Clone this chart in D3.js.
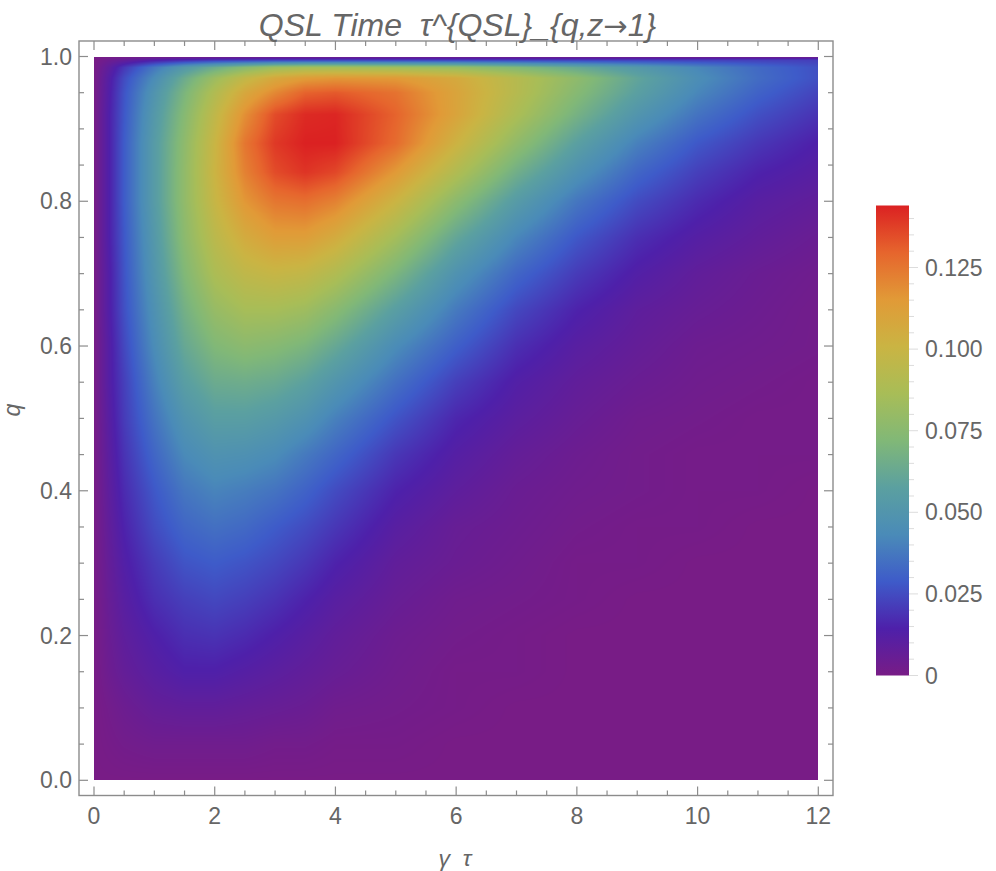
<!DOCTYPE html>
<html>
<head>
<meta charset="utf-8">
<script src="https://cdn.jsdelivr.net/npm/d3@7"></script>
<style>
  html, body { margin: 0; padding: 0; background: #fff; }
  text { font-family: "Liberation Sans", Arial, sans-serif; fill: #666; }
</style>
</head>
<body>
<svg id="viz" width="996" height="871"></svg>
<script>
// Chart data
const gammaTau = [0, 0.25, 0.5, 1, 1.5, 2, 2.5, 3, 3.5, 4, 5, 6, 7, 8, 9, 10, 11, 12];
const qValues = [1, 0.995, 0.985, 0.97, 0.95, 0.92, 0.88, 0.84, 0.8, 0.75, 0.7, 0.65, 0.6, 0.55, 0.5, 0.45, 0.4, 0.35, 0.3, 0.25, 0.2, 0.15, 0.1, 0.05, 0];
const tauGrid = [
  [0, 0, 0, 0, 0, 0, 0, 0, 0, 0, 0, 0, 0, 0, 0, 0, 0, 0],
  [0, .004, .007, .013, .017, .02, .021, .022, .022, .022, .022, .022, .022, .022, .022, .022, .022, .022],
  [0, .009, .02, .037, .052, .064, .074, .082, .085, .085, .083, .08, .072, .062, .052, .042, .033, .026],
  [0, .012, .025, .044, .064, .082, .097, .108, .114, .116, .115, .107, .092, .077, .06, .045, .034, .026],
  [0, .013, .027, .049, .07, .09, .108, .12, .13, .132, .126, .11, .092, .074, .057, .042, .031, .023],
  [0, .014, .028, .052, .074, .096, .118, .135, .142, .143, .13, .11, .088, .068, .05, .036, .026, .019],
  [0, .014, .029, .054, .077, .1, .125, .139, .144, .144, .128, .102, .078, .057, .04, .028, .02, .014],
  [0, .014, .029, .054, .078, .101, .122, .135, .14, .136, .115, .09, .066, .047, .032, .022, .015, .011],
  [0, .014, .029, .054, .078, .099, .116, .125, .127, .122, .101, .076, .054, .037, .025, .017, .011, .008],
  [0, .014, .028, .052, .076, .094, .106, .113, .113, .106, .085, .061, .042, .028, .018, .012, .008, .005],
  [0, .013, .027, .05, .072, .088, .096, .099, .097, .09, .07, .048, .032, .021, .013, .008, .005, .003],
  [0, .013, .026, .047, .067, .08, .086, .086, .083, .075, .056, .038, .024, .015, .009, .006, .004, .002],
  [0, .012, .024, .044, .062, .072, .076, .074, .07, .062, .044, .03, .018, .011, .007, .004, .003, .002],
  [0, .012, .022, .04, .056, .064, .065, .063, .058, .05, .035, .022, .013, .008, .005, .003, .002, .001],
  [0, .011, .021, .036, .049, .056, .056, .053, .048, .04, .027, .016, .01, .006, .003, .002, .001, .001],
  [0, .01, .019, .032, .043, .048, .047, .044, .038, .032, .02, .012, .007, .004, .002, .001, .001, .001],
  [0, .009, .017, .028, .037, .041, .039, .036, .031, .025, .015, .009, .005, .003, .002, .001, .001, 0],
  [0, .008, .015, .025, .032, .035, .033, .029, .025, .02, .011, .006, .004, .002, .001, .001, 0, 0],
  [0, .007, .013, .021, .027, .029, .027, .024, .02, .015, .008, .005, .003, .001, .001, 0, 0, 0],
  [0, .006, .011, .018, .022, .024, .022, .019, .015, .011, .006, .003, .002, .001, 0, 0, 0, 0],
  [0, .005, .009, .014, .018, .019, .017, .014, .011, .008, .004, .002, .001, 0, 0, 0, 0, 0],
  [0, .004, .007, .011, .014, .014, .012, .01, .008, .006, .003, .001, .001, 0, 0, 0, 0, 0],
  [0, .002, .004, .007, .008, .008, .007, .006, .005, .003, .002, .001, 0, 0, 0, 0, 0, 0],
  [0, .001, .002, .003, .003, .003, .003, .002, .002, .001, .001, 0, 0, 0, 0, 0, 0, 0],
  [0, 0, 0, 0, 0, 0, 0, 0, 0, 0, 0, 0, 0, 0, 0, 0, 0, 0]
];
const barMax = 0.144;
const barTicks = [0, 0.025, 0.05, 0.075, 0.1, 0.125];
const rainbowPos = [0, 0.1, 0.2, 0.3, 0.4, 0.5, 0.6, 0.7, 0.8, 0.9, 1];
const rainbowHex = ["#781c86", "#4e20aa", "#3e5bc9", "#4a8bb8", "#5ba0a0", "#81b877", "#a8bd57", "#cab443", "#e19a37", "#e6652d", "#db2122"];

const svg = d3.select("#viz");

// Layout
const frame = { left: 79, right: 833, top: 41, bottom: 795.5 };
const x = d3.scaleLinear().domain([0, 12]).range([94, 818.3]);
const y = d3.scaleLinear().domain([0, 1]).range([780.3, 56.5]);
const barY = d3.scaleLinear().domain([0, barMax]).range([675.5, 205.5]);
const barLeft = 876, barRight = 909;

const color = d3.scaleLinear()
  .domain(rainbowPos.map(d => d * barMax))
  .range(rainbowHex)
  .clamp(true);

// Heat map: grid values smoothed per pixel into one image
const colIndex = d3.scaleLinear().domain(gammaTau).range(d3.range(gammaTau.length)).clamp(true);
const rowIndex = d3.scaleLinear().domain(qValues).range(d3.range(qValues.length)).clamp(true);

function drawHeat() {
  const x0 = Math.round(x.range()[0]), x1 = Math.round(x.range()[1]);
  const y0 = Math.round(y.range()[1]), y1 = Math.round(y.range()[0]);
  const w = x1 - x0, h = y1 - y0;
  const canvas = document.createElement("canvas");
  canvas.width = w;
  canvas.height = h;
  const ctx = canvas.getContext("2d");
  const img = ctx.createImageData(w, h);
  for (let j = 0; j < h; j++) {
    const r = rowIndex(y.invert(y0 + j + 0.5));
    const r0 = Math.min(Math.floor(r), qValues.length - 2), rf = r - r0;
    for (let i = 0; i < w; i++) {
      const c = colIndex(x.invert(x0 + i + 0.5));
      const c0 = Math.min(Math.floor(c), gammaTau.length - 2), cf = c - c0;
      const v = (tauGrid[r0][c0] * (1 - cf) + tauGrid[r0][c0 + 1] * cf) * (1 - rf)
        + (tauGrid[r0 + 1][c0] * (1 - cf) + tauGrid[r0 + 1][c0 + 1] * cf) * rf;
      const rgb = d3.rgb(color(v));
      const k = (j * w + i) * 4;
      img.data[k] = rgb.r;
      img.data[k + 1] = rgb.g;
      img.data[k + 2] = rgb.b;
      img.data[k + 3] = 255;
    }
  }
  ctx.putImageData(img, 0, 0);
  svg.append("image")
    .attr("x", x0).attr("y", y0)
    .attr("width", w).attr("height", h)
    .attr("href", canvas.toDataURL());
}
drawHeat();

// Frame and ticks
svg.append("rect")
  .attr("x", frame.left).attr("y", frame.top)
  .attr("width", frame.right - frame.left).attr("height", frame.bottom - frame.top)
  .attr("fill", "none").attr("stroke", "#8c8c8c").attr("stroke-width", 1.4);

const xMinor = d3.range(0, 12.01, 0.5);
const yMinor = d3.range(0, 1.001, 0.05);
const tickLen = (d, step) => Math.abs(d / step - Math.round(d / step)) < 1e-6 ? 9 : 5;

const ticks = svg.append("g").attr("stroke", "#8c8c8c").attr("stroke-width", 1.2);
xMinor.forEach(d => {
  const len = tickLen(d, 2);
  ticks.append("line").attr("x1", x(d)).attr("x2", x(d)).attr("y1", frame.bottom).attr("y2", frame.bottom - len);
  ticks.append("line").attr("x1", x(d)).attr("x2", x(d)).attr("y1", frame.top).attr("y2", frame.top + len);
});
yMinor.forEach(d => {
  const len = tickLen(d, 0.2);
  ticks.append("line").attr("y1", y(d)).attr("y2", y(d)).attr("x1", frame.left).attr("x2", frame.left + len);
  ticks.append("line").attr("y1", y(d)).attr("y2", y(d)).attr("x1", frame.right).attr("x2", frame.right - len);
});

svg.append("g").selectAll("text")
  .data(d3.range(0, 12.01, 2))
  .enter().append("text")
  .attr("x", d => x(d)).attr("y", 823.5)
  .attr("text-anchor", "middle").attr("font-size", 23)
  .text(d => d);

svg.append("g").selectAll("text")
  .data(d3.range(0, 1.01, 0.2))
  .enter().append("text")
  .attr("x", 72).attr("y", d => y(d) + 8)
  .attr("text-anchor", "end").attr("font-size", 23)
  .text(d3.format(".1f"));

// Titles
const title = svg.append("text")
  .attr("x", 457.5).attr("y", 36)
  .attr("text-anchor", "middle").attr("font-size", 32).attr("font-style", "italic")
  .style("white-space", "pre");
title.append("tspan").text("QSL Time  τ^{QSL}_{q,z");
title.append("tspan").style("font-family", "'DejaVu Sans'").style("font-style", "normal").attr("font-size", 29).text("→");
title.append("tspan").text("1}");
svg.append("text")
  .attr("x", 455).attr("y", 866)
  .attr("text-anchor", "middle").attr("font-size", 23).attr("font-style", "italic")
  .style("white-space", "pre")
  .text("γ  τ");
svg.append("text")
  .attr("transform", "translate(20,410) rotate(-90)")
  .attr("text-anchor", "middle").attr("font-size", 23).attr("font-style", "italic")
  .text("q");

// Colour bar
const defs = svg.append("defs");
const grad = defs.append("linearGradient").attr("id", "barGradient")
  .attr("x1", 0).attr("y1", 1).attr("x2", 0).attr("y2", 0);
rainbowPos.forEach((p, i) => {
  grad.append("stop").attr("offset", `${p * 100}%`).attr("stop-color", rainbowHex[i]);
});
svg.append("rect")
  .attr("x", barLeft).attr("y", barY(barMax))
  .attr("width", barRight - barLeft).attr("height", barY(0) - barY(barMax))
  .attr("fill", "url(#barGradient)");

const barMinor = d3.range(0, barMax, 0.005);
svg.append("g").selectAll("line")
  .data(barMinor)
  .enter().append("line")
  .attr("x1", barRight).attr("y1", d => barY(d)).attr("y2", d => barY(d))
  .attr("x2", d => barRight + (Math.abs(d / 0.025 - Math.round(d / 0.025)) < 1e-6 ? 9 : 5))
  .attr("stroke", "#dcdcdc").attr("stroke-width", 1);

svg.append("g").selectAll("text")
  .data(barTicks)
  .enter().append("text")
  .attr("x", 925).attr("y", d => barY(d) + 8)
  .attr("font-size", 23)
  .text(d => d === 0 ? "0" : d3.format(".3f")(d));
</script>
</body>
</html>
